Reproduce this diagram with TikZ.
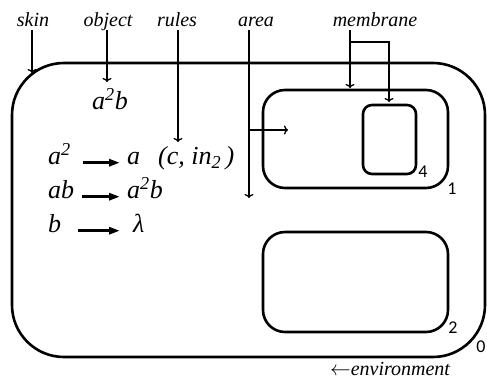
\documentclass[tikz,border=0pt]{standalone}
\usepackage{fontspec}
\setmainfont{Liberation Serif}
\newfontfamily\numfont{Carlito}
\usetikzlibrary{arrows.meta}

\begin{document}
\begin{tikzpicture}[x=1pt, y=-1pt,
  membr/.style={draw, line width=2.6pt, rounded corners=#1, inner sep=0pt},
  lbl/.style={font=\fontsize{20}{20}\selectfont\itshape, inner sep=0pt, text depth=3pt},
  term/.style={font=\fontsize{26}{26}\selectfont\itshape, inner sep=0pt},
  num/.style={font=\fontsize{18}{18}\selectfont\numfont, inner sep=0pt},
  ptr/.style={-{To[length=4pt,width=9pt]}, line width=1.3pt},
  rule/.style={-{Triangle[length=11pt,width=7pt]}, line width=2.8pt, shorten >=7pt}]
  \useasboundingbox (0,0) rectangle (487,379);

  % membranes
  \node[membr=52, minimum width=473pt, minimum height=294pt] (skin) at (248.5,210) {};
  \node[membr=22, minimum width=185pt, minimum height=98pt]  (box1) at (355.5,139) {};
  \node[membr=9,  minimum width=53pt,  minimum height=69pt]  (box4) at (389.5,139.5) {};
  \node[membr=22, minimum width=185pt, minimum height=100pt] (box2) at (355.5,282) {};
  \node[num] (n1) at (452,189) {1};
  \node[num] (n4) at (423,172) {4};
  \node[num] (n2) at (453,328) {2};
  \node[num] (n0) at (481,347) {0};

  % labels on top
  \node[lbl, anchor=base] (skinl)  at (33,27)  {skin};
  \node[lbl, anchor=base] (objl)   at (108,27) {object};
  \node[lbl, anchor=base] (rulesl) at (177,27) {rules};
  \node[lbl, anchor=base] (areal)  at (256,27) {area};
  \node[lbl, anchor=base] (membl)  at (375,27) {membrane};
  \node[lbl, anchor=base, text depth=0pt] (envl) at (390,375) {$\leftarrow$environment};

  % contents of the skin
  \node[term, anchor=base] (objv) at (110,110) {a\textsuperscript{2}b};
  \node[term, anchor=base west] (lhs1) at (48,165)  {a\textsuperscript{2}};
  \node[term, anchor=base west] (rhs1) at (127,165) {a};
  \node[term, anchor=base west] (tgt1) at (158,165) {(c,\ in\textsubscript{2}\,)};
  \node[term, anchor=base west] (lhs2) at (48,199)  {ab};
  \node[term, anchor=base west] (rhs2) at (127,199) {a\textsuperscript{2}b};
  \node[term, anchor=base west] (lhs3) at (48,233)  {b};
  \node[term, anchor=base west] (rhs3) at (133,233) {λ};
  \draw[rule, shorten <=12pt] (lhs1.mid east) -- (rhs1.mid west);
  \draw[rule, shorten <=8pt]  (lhs2.mid east) -- (rhs2.mid west);
  \draw[rule, shorten <=17pt, shorten >=13pt] (lhs3.mid east) -- (rhs3.mid west);

  % pointers
  \coordinate (skintip) at (32,73);
  \coordinate (objtip) at (107,82);
  \coordinate (rulestip) at (178,142);
  \coordinate (areatip) at (249,198);
  \coordinate (areafork) at (249,130);
  \coordinate (areatip2) at (288,130);
  \coordinate (membtip) at (350,88);
  \coordinate (membfork) at (350,42);
  \coordinate (membtip2) at (389,102);
  \draw[ptr] (skinl.south -| skintip) -- (skintip);
  \draw[ptr] (objl.south -| objtip) -- (objtip);
  \draw[ptr] (rulesl.south -| rulestip) -- (rulestip);
  \draw[ptr] (areal.south -| areatip) -- (areatip);
  \draw[ptr] (areafork) -- (areatip2);
  \draw[ptr] (membl.south -| membtip) -- (membtip);
  \draw[ptr] (membfork) -| (membtip2);
\end{tikzpicture}
\end{document}
